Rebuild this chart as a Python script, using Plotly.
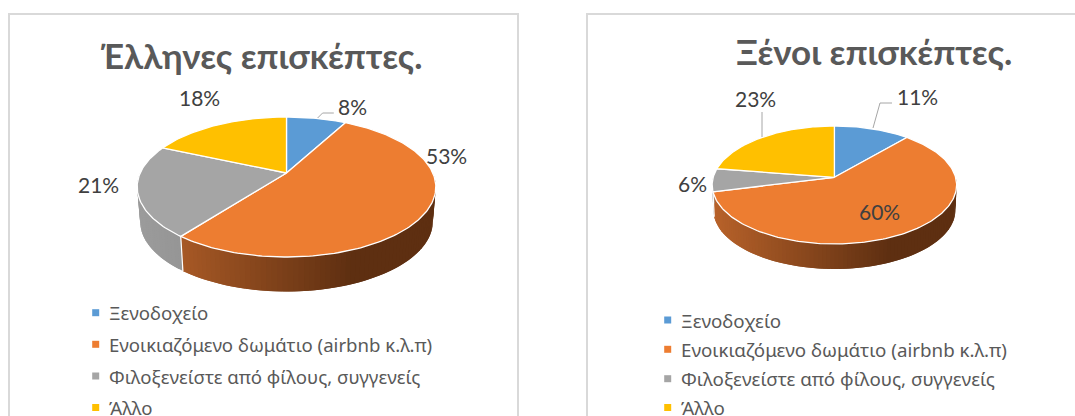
import math
import plotly.graph_objects as go

categories = ["Ξενοδοχείο", "Ενοικιαζόμενο δωμάτιο (airbnb κ.λ.π)",
              "Φιλοξενείστε από φίλους, συγγενείς", "Άλλο"]
greek_values = [7.85, 52.55, 21.2, 18.4]
foreign_values = [11.4, 59.7, 6.3, 22.6]
greek_title = "Έλληνες επισκέπτες."
foreign_title = "Ξένοι επισκέπτες."
colors = ["#5b9bd5", "#ed7d31", "#a5a5a5", "#ffc000"]
side_left = [None, (184, 98, 42), (155, 155, 155), None]
side_right = [None, (94, 47, 17), (125, 125, 125), None]

FONT = "Lato, Carlito, Calibri, sans-serif"
LEG_FONT = "Noto Sans, Open Sans, sans-serif"

fig = go.Figure()


def project(g, theta, bottom=False):
    X, Y = math.sin(theta), math.cos(theta)
    w = 1 + g["k"] * Y
    sx = g["cx"] + g["A"] * X / w
    sy = g["cy"] - g["B"] * Y / w
    if bottom:
        sx = g["cx"] + (sx - g["cx"]) * g["shrink"]
        sy = sy + g["depth"]
    return sx, sy


def poly(xs, ys, fill, line="white", width=0.0):
    fig.add_trace(go.Scatter(x=xs, y=ys, mode="lines", fill="toself", fillcolor=fill,
                             line=dict(color=line, width=width),
                             hoverinfo="skip", showlegend=False))


def draw_pie(values, g):
    total = sum(values)
    edges = [0.0]
    for v in values:
        edges.append(edges[-1] + v / total * 2 * math.pi)
    # side wall: only the front half is visible; each strip overlaps the next
    xl, xr = g["cx"] - g["A"], g["cx"] + g["A"] * 0.45
    for i in range(len(values)):
        a0, a1 = max(edges[i], math.pi / 2), min(edges[i + 1], 3 * math.pi / 2)
        if a1 <= a0 or side_left[i] is None:
            continue
        n = max(2, int((a1 - a0) / 0.03))
        for j in range(n):
            t0 = a0 + (a1 - a0) * j / n
            t1 = a1 if j == n - 1 else a0 + (a1 - a0) * (j + 2) / n
            t1 = min(t1, a1)
            tm = a0 + (a1 - a0) * (j + 0.5) / n
            arc = [t0 + (t1 - t0) * m / 4 for m in range(5)]
            top = [project(g, t) for t in arc]
            bot = [project(g, t, True) for t in reversed(arc)]
            f = min(1, max(0, (project(g, tm)[0] - xl) / (xr - xl)))
            c = [round(side_left[i][m] + (side_right[i][m] - side_left[i][m]) * f) for m in range(3)]
            poly([p[0] for p in top + bot] + [top[0][0]], [p[1] for p in top + bot] + [top[0][1]],
                 "rgb(%d,%d,%d)" % tuple(c))
    # vertical seams on the wall
    for e in edges:
        t = e % (2 * math.pi)
        if math.pi / 2 < t < 3 * math.pi / 2:
            p, q = project(g, t), project(g, t, True)
            fig.add_trace(go.Scatter(x=[p[0], q[0]], y=[p[1], q[1]], mode="lines",
                                     line=dict(color="white", width=1.2),
                                     hoverinfo="skip", showlegend=False))
    # top face
    for i in range(len(values)):
        n = max(4, int((edges[i + 1] - edges[i]) / 0.02))
        pts = [project(g, edges[i] + (edges[i + 1] - edges[i]) * j / n) for j in range(n + 1)]
        xs = [g["cx"]] + [p[0] for p in pts] + [g["cx"]]
        ys = [g["cy"]] + [p[1] for p in pts] + [g["cy"]]
        poly(xs, ys, colors[i], "white", 1.3)
    # percentage labels
    for i, v in enumerate(values):
        fig.add_annotation(x=g["labels"][i][0], y=g["labels"][i][1], text="%d%%" % round(v),
                           showarrow=False, xanchor="center", yanchor="middle",
                           font=dict(family=FONT, size=21, color="#404040"))
    for path in g["leaders"]:
        fig.add_trace(go.Scatter(x=[p[0] for p in path], y=[p[1] for p in path], mode="lines",
                                 line=dict(color="#a6a6a6", width=1),
                                 hoverinfo="skip", showlegend=False))
    fig.add_annotation(x=g["title"][0], y=g["title"][1], text="<b>%s</b>" % g["title"][2],
                       showarrow=False, xanchor="center", yanchor="middle",
                       font=dict(family=FONT, size=g["title"][3], color="#595959"))
    # key
    for i, cat in enumerate(categories):
        y = g["key_y"][i]
        fig.add_trace(go.Scatter(x=[g["key_x"]], y=[y], mode="markers", name=cat,
                                 marker=dict(symbol="square", size=7, color=colors[i]),
                                 hoverinfo="skip", showlegend=False))
        fig.add_annotation(x=g["key_x"] + 11.3, y=y, text=cat, showarrow=False,
                           xanchor="left", yanchor="middle",
                           font=dict(family=LEG_FONT, size=g["key_size"], color="#595959"))


left = dict(cx=286.5, cy=173, A=146.3, B=67.2, k=0.2, depth=34.5, shrink=0.98,
            labels=[(352.4, 106), (446.7, 155), (98, 184), (199.7, 97)],
            leaders=[[(317.6, 118), (322.6, 113), (333.8, 113)]],
            title=(261, 55.5, greek_title, 34.8),
            key_x=95.7, key_y=[312.7, 344.3, 376, 407.5], key_size=18.6)
right = dict(cx=834.4, cy=177.3, A=121.2, B=58, k=0.13, depth=25, shrink=0.99,
             labels=[(917, 96), (879, 211), (692, 183), (755, 98)],
             leaders=[[(873, 128), (880, 103), (892, 103)], [(762, 137), (762, 112)]],
             title=(874, 50.5, foreign_title, 35),
             key_x=667.7, key_y=[320, 349.3, 378.7, 407.5], key_size=18.75)
draw_pie(greek_values, left)
draw_pie(foreign_values, right)

# panel frames
frames = [(9, 518), (587, 1090)]
for x0, x1 in frames:
    fig.add_shape(type="rect", x0=x0, x1=x1, y0=14, y1=440, xref="x", yref="y",
                  line=dict(color="#d9d9d9", width=2), fillcolor="rgba(0,0,0,0)", layer="below")

fig.update_layout(width=1075, height=416, margin=dict(l=0, r=0, t=0, b=0),
                  paper_bgcolor="white", plot_bgcolor="white", showlegend=False,
                  xaxis=dict(range=[0, 1075], visible=False, fixedrange=True),
                  yaxis=dict(range=[416, 0], visible=False, fixedrange=True))
fig.write_html("out.html", config=dict(displayModeBar=False),
               post_script="document.body.style.margin='0';document.body.style.overflow='hidden';")
